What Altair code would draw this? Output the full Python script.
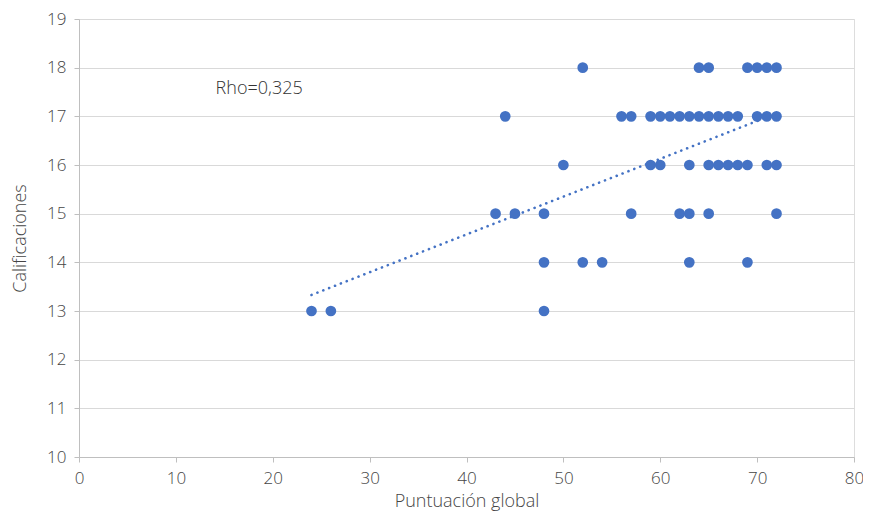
import altair as alt
import pandas as pd

# Scatter points (Puntuación global, Calificaciones)
puntuacion = [
    52, 64, 65, 69, 70, 71, 72,
    44, 56, 57, 59, 60, 61, 62, 63, 64, 65, 66, 67, 68, 70, 71, 72,
    50, 59, 60, 63, 65, 66, 67, 68, 69, 71, 72,
    43, 45, 48, 57, 62, 63, 65, 72,
    48, 52, 54, 63, 69,
    24, 26, 48,
]
calificaciones = (
    [18] * 7 + [17] * 16 + [16] * 11 + [15] * 8 + [14] * 5 + [13] * 3
)

# Linear trend line endpoints
trend_x = [24, 72]
trend_y = [13.33, 17.06]

label_text = ["Rho=0,325"]
label_x = [14.1]
label_y = [17.56]

pts = pd.DataFrame({"x": puntuacion, "y": calificaciones})
trend = pd.DataFrame({"x": trend_x, "y": trend_y})
lab = pd.DataFrame({"x": label_x, "y": label_y, "t": label_text})

FONT = "Open Sans"
GRAY = "#454545"
FS = 17
FT = 18

xscale = alt.Scale(domain=[0, 80], nice=False, zero=False)
yscale = alt.Scale(domain=[10, 19], nice=False, zero=False)

xaxis = alt.Axis(
    title="Puntuación global", values=list(range(0, 81, 10)), grid=False,
    domainColor="#bfbfbf", tickColor="#bfbfbf", tickSize=5,
    labelFont=FONT, labelFontSize=FS, labelColor=GRAY, labelPadding=8,
    labelFontWeight=300, labelFlush=False, labelOverlap=False,
    titleFont=FONT, titleFontSize=FT, titleColor=GRAY, titleFontWeight=300,
    titlePadding=6,
)
yaxis = alt.Axis(
    title="Calificaciones", values=list(range(10, 20)), grid=True,
    gridColor="#d9d9d9", domainColor="#bfbfbf", tickColor="#bfbfbf", tickSize=5,
    labelFont=FONT, labelFontSize=FS, labelColor=GRAY, labelPadding=8,
    labelFontWeight=300, labelFlush=False, labelOverlap=False,
    titleFont=FONT, titleFontSize=FT, titleColor=GRAY, titleFontWeight=300,
    titlePadding=17,
)

line = alt.Chart(trend).mark_line(
    color="#4472C4", strokeWidth=2.6, strokeDash=[0.1, 6.2], strokeCap="round"
).encode(
    x=alt.X("x:Q", scale=xscale, axis=xaxis),
    y=alt.Y("y:Q", scale=yscale, axis=yaxis),
)

points = alt.Chart(pts).mark_circle(
    color="#4472C4", opacity=1, size=115
).encode(
    x=alt.X("x:Q", scale=xscale),
    y=alt.Y("y:Q", scale=yscale),
)

text = alt.Chart(lab).mark_text(
    align="left", baseline="middle", font=FONT, fontSize=FT, fontWeight=300,
    color="#333333"
).encode(
    x=alt.X("x:Q", scale=xscale),
    y=alt.Y("y:Q", scale=yscale),
    text="t:N",
)

chart = alt.layer(line, points, text).properties(
    width=775, height=438,
    autosize=alt.AutoSizeParams(type="none"),
    padding={"left": 71, "top": 11, "right": 9, "bottom": 56},
).configure_view(stroke=None).configure(background="white")

chart.save("out.html", embed_options={"renderer": "svg", "actions": False})
